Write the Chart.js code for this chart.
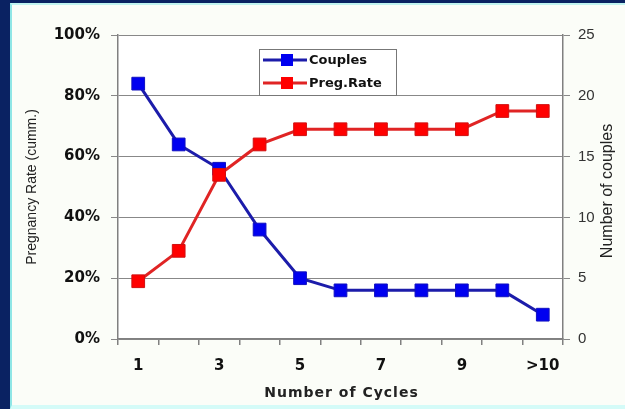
<!DOCTYPE html>
<html><head><meta charset="utf-8">
<script src="https://cdn.jsdelivr.net/npm/chart.js@4.4.0/dist/chart.umd.min.js"></script>
<style>
html,body{margin:0;padding:0;background:#0a2262;width:625px;height:409px;overflow:hidden}
#frame{position:absolute;left:10px;top:3px;width:615px;height:406px;background:#fbfdf8;box-sizing:border-box;border-left:2px solid #8fe6e6;border-top:2px solid #c0f4f0;border-bottom:4px solid #d4fbf8}
#c{position:absolute;left:0;top:0}
</style></head><body>
<div id="frame"></div>
<canvas id="c" width="625" height="409"></canvas>
<script>
const categories = ['1','2','3','4','5','6','7','8','9','10','>10'];
const couples = [21,16,14,9,5,4,4,4,4,4,2];
const pregRate = [19,29,54,64,69,69,69,69,69,75,75];
const leftTicks = [0,20,40,60,80,100];
const rightTicks = [0,5,10,15,20,25];
const xTitle = 'Number of Cycles';
const leftTitle = 'Pregnancy Rate (cumm.)';
const rightTitle = 'Number of couples';

const bgPlugin = {
  id:'bg',
  beforeDraw(chart){
    const {ctx, chartArea:a} = chart;
    ctx.save(); ctx.fillStyle='#ffffff'; ctx.fillRect(a.left,a.top,a.right-a.left,a.bottom-a.top); ctx.restore();
  }
};
const titlePlugin = {
  id:'titles',
  afterDraw(chart){
    const ctx = chart.ctx, a = chart.chartArea;
    ctx.save();
    ctx.fillStyle='#222'; ctx.textAlign='center'; ctx.textBaseline='middle';
    ctx.font='bold 14px "DejaVu Sans"';
    if ('letterSpacing' in ctx) ctx.letterSpacing='1px';
    ctx.fillText(xTitle, (a.left+a.right)/2 + 1, 393);
    if ('letterSpacing' in ctx) ctx.letterSpacing='0px';
    ctx.font='16px "Liberation Sans"';
    ctx.translate(608, (a.top+a.bottom)/2 + 4);
    ctx.rotate(-Math.PI/2);
    ctx.fillText(rightTitle, 0, 0);
    ctx.restore();
  }
};
const legendPlugin = {
  id:'boxLegend',
  afterDraw(chart){
    const ctx = chart.ctx;
    const x0=259, y0=49, w=137, h=46;
    ctx.save();
    ctx.fillStyle='#ffffff'; ctx.fillRect(x0,y0,w,h);
    ctx.strokeStyle='#777'; ctx.lineWidth=1; ctx.strokeRect(x0+0.5,y0+0.5,w,h);
    chart.data.datasets.forEach((ds,i)=>{
      const y = y0 + 11 + i*23;
      ctx.strokeStyle = ds.borderColor; ctx.lineWidth=3;
      ctx.beginPath(); ctx.moveTo(x0+4,y); ctx.lineTo(x0+48,y); ctx.stroke();
      ctx.fillStyle = ds.pointBackgroundColor; ctx.fillRect(x0+28-6, y-6, 12, 12);
      ctx.fillStyle='#111'; ctx.font='bold 13px "DejaVu Sans"'; ctx.textBaseline='middle'; ctx.textAlign='left';
      ctx.fillText(ds.label, x0+50, y+1);
    });
    ctx.restore();
  }
};

new Chart(document.getElementById('c'), {
  type:'line',
  data:{
    labels: categories,
    datasets:[
      {label:'Couples', data:couples, yAxisID:'y2', borderColor:'#1c1caa', pointBackgroundColor:'#0000f0', pointBorderColor:'#1010c0', pointBorderWidth:1, pointStyle:'rect', pointRadius:9, pointHoverRadius:9, borderWidth:3, tension:0, order:2},
      {label:'Preg.Rate', data:pregRate, yAxisID:'y', borderColor:'#e02424', pointBackgroundColor:'#ff0000', pointBorderColor:'#d01010', pointBorderWidth:1, pointStyle:'rect', pointRadius:9, pointHoverRadius:9, borderWidth:3, tension:0, order:1}
    ]
  },
  options:{
    responsive:false, animation:false,
    layout:{padding:{top:35,left:0,right:0,bottom:0}},
    plugins:{legend:{display:false}, tooltip:{enabled:false}},
    scales:{
      x:{
        type:'category', offset:true,
        grid:{offset:true, drawOnChartArea:false, drawTicks:true, tickLength:6, color:'#808080', lineWidth:1.5},
        border:{color:'#808080', width:1.5},
        ticks:{autoSkip:false, maxRotation:0, padding:12, color:'#111', font:{family:'DejaVu Sans', weight:'bold', size:15},
          callback:(v,i)=> i%2===0 ? categories[i] : ''},
        title:{display:false},
        afterFit:s=>{s.height=70;}
      },
      y:{
        position:'left', min:0, max:100,
        afterBuildTicks:s=>{s.ticks = leftTicks.map(v=>({value:v}));},
        grid:{color:'#888888', lineWidth:1, tickLength:7},
        border:{color:'#808080', width:1.5},
        ticks:{padding:11, color:'#111', font:{family:'DejaVu Sans', weight:'bold', size:15}, callback:v=>v+'%'},
        title:{display:true, text:leftTitle, color:'#222', font:{family:'Liberation Sans', size:14}, padding:{top:24,bottom:0}},
        afterFit:s=>{s.width=118;}
      },
      y2:{
        position:'right', min:0, max:25,
        afterBuildTicks:s=>{s.ticks = rightTicks.map(v=>({value:v}));},
        grid:{drawOnChartArea:false, color:'#888888', tickLength:7},
        border:{color:'#808080', width:1.5},
        ticks:{padding:8, color:'#333', font:{family:'Liberation Sans', size:15}},
        title:{display:false},
        afterFit:s=>{s.width=62;}
      }
    }
  },
  plugins:[bgPlugin, titlePlugin, legendPlugin]
});
</script>
</body></html>
